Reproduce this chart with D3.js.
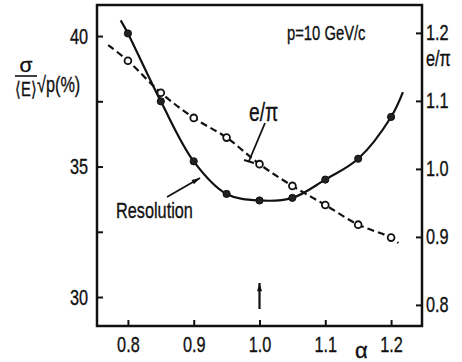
<!DOCTYPE html>
<html>
<head>
<meta charset="utf-8">
<script src="https://cdn.jsdelivr.net/npm/d3@7"></script>
<style>
  body { margin: 0; background: #fff; }
  svg { display: block; }
  text { font-family: "Liberation Sans", Arial, sans-serif; fill: #111; stroke: #111; stroke-width: 0.35; transform-box: fill-box; }
</style>
</head>
<body>
<svg width="462" height="362"></svg>
<script>
var svg = d3.select('svg');

// alpha values of the measurements
var alphas = [0.8, 0.85, 0.9, 0.95, 1.0, 1.05, 1.1, 1.15, 1.2];
// resolution sigma/<E> * sqrt(p) in %, left axis
var resolution = [40.1, 37.5, 35.2, 33.95, 33.7, 33.8, 34.5, 35.3, 36.9];
// e/pi ratio, right axis
var ePi = [1.159, 1.112, 1.075, 1.046, 1.007, 0.975, 0.947, 0.918, 0.899];
// ends of the drawn curves, beyond the points
var resolutionEnds = [[0.789, 40.6], [1.218, 37.85]];
var ePiEnds = [[0.77, 1.182], [1.211, 0.891]];

var xTicks = [0.8, 0.9, 1.0, 1.1, 1.2];
var leftTicks = [30, 35, 40];
var leftMinor = [32.5, 37.5];
var rightTicks = [0.8, 0.9, 1.0, 1.1, 1.2];

var x = d3.scaleLinear().domain([0.753, 1.247]).range([97, 422]);
var yL = d3.scaleLinear().domain([28.89, 41.19]).range([326, 5]);
var yR = d3.scaleLinear().domain([0.769, 1.241]).range([326, 5]);

// squeeze text horizontally, the original lettering is very narrow
function narrow(sel, origin){
  sel.style('transform-origin', origin + ' center').style('transform', 'scaleX(0.74)');
}

// frame
svg.append('rect')
  .attr('x', 97).attr('y', 5).attr('width', 325).attr('height', 321)
  .attr('fill', 'none').attr('stroke', '#111').attr('stroke-width', 2.5);

// axes, ticks pointing inwards
var fmt = d3.format('.1f');
var gx = svg.append('g').attr('transform', 'translate(0,326)')
  .call(d3.axisBottom(x).tickValues(xTicks).tickSize(-6).tickPadding(10).tickFormat(fmt));
var gl = svg.append('g').attr('transform', 'translate(97,0)')
  .call(d3.axisLeft(yL).tickValues(leftTicks).tickSize(-6).tickPadding(9));
var glm = svg.append('g').attr('transform', 'translate(97,0)')
  .call(d3.axisLeft(yL).tickValues(leftMinor).tickSize(-6).tickFormat(''));
var gr = svg.append('g').attr('transform', 'translate(422,0)')
  .call(d3.axisRight(yR).tickValues(rightTicks).tickSize(-6).tickPadding(4).tickFormat(fmt));

[gx, gl, glm, gr].forEach(function(g){
  g.select('.domain').remove();
  g.selectAll('line').attr('stroke', '#111').attr('stroke-width', 2);
  g.selectAll('text').attr('font-size', 22)
    .style('font-family', '"Liberation Sans", Arial, sans-serif')
    .attr('fill', '#111');
});
narrow(gx.selectAll('text'), 'center');
narrow(gl.selectAll('text'), 'right');
narrow(gr.selectAll('text'), 'left');

// resolution curve (solid)
var resPts = alphas.map(function(a, i){ return [a, resolution[i]]; });
var resLine = d3.line()
  .x(function(d){ return x(d[0]); })
  .y(function(d){ return yL(d[1]); })
  .curve(d3.curveCatmullRom.alpha(0.5));
svg.append('path')
  .datum([resolutionEnds[0]].concat(resPts, [resolutionEnds[1]]))
  .attr('d', resLine)
  .attr('fill', 'none').attr('stroke', '#111').attr('stroke-width', 2.2);

// e/pi curve (dashed)
var epPts = alphas.map(function(a, i){ return [a, ePi[i]]; });
var epLine = d3.line()
  .x(function(d){ return x(d[0]); })
  .y(function(d){ return yR(d[1]); })
  .curve(d3.curveCatmullRom.alpha(0.5));
svg.append('path')
  .datum([ePiEnds[0]].concat(epPts, [ePiEnds[1]]))
  .attr('d', epLine)
  .attr('fill', 'none').attr('stroke', '#111').attr('stroke-width', 2.2)
  .attr('stroke-dasharray', '7,4');

svg.selectAll('.resDot')
  .data(resPts)
  .enter()
  .append('circle')
  .attr('class', 'resDot')
  .attr('cx', function(d){ return x(d[0]); })
  .attr('cy', function(d){ return yL(d[1]); })
  .attr('r', 3.6)
  .attr('fill', '#222').attr('stroke', '#111').attr('stroke-width', 1);

svg.selectAll('.epDot')
  .data(epPts)
  .enter()
  .append('circle')
  .attr('class', 'epDot')
  .attr('cx', function(d){ return x(d[0]); })
  .attr('cy', function(d){ return yR(d[1]); })
  .attr('r', 3.4)
  .attr('fill', '#fff').attr('stroke', '#111').attr('stroke-width', 1.8);

// arrow markers
var defs = svg.append('defs');
defs.append('marker')
  .attr('id', 'head').attr('viewBox', '0 0 10 6')
  .attr('refX', 10).attr('refY', 3)
  .attr('markerWidth', 11).attr('markerHeight', 5).attr('markerUnits', 'userSpaceOnUse')
  .attr('orient', 'auto')
  .append('path').attr('d', 'M0,0L10,3L0,6Z').attr('fill', '#111');

// Resolution label and pointer
narrow(svg.append('text').attr('x', 116).attr('y', 218).attr('font-size', 22).text('Resolution'), 'left');
svg.append('line')
  .attr('x1', 167).attr('y1', 197).attr('x2', 200).attr('y2', 178)
  .attr('stroke', '#111').attr('stroke-width', 1.8).attr('marker-end', 'url(#head)');

// e/pi label and pointer with crossbar
narrow(svg.append('text').attr('x', 249).attr('y', 121).attr('font-size', 26).text('e/π'), 'left');
svg.append('line')
  .attr('x1', 265).attr('y1', 123).attr('x2', 249).attr('y2', 161)
  .attr('stroke', '#111').attr('stroke-width', 1.8);
svg.append('line')
  .attr('x1', 244).attr('y1', 160).attr('x2', 254).attr('y2', 163)
  .attr('stroke', '#111').attr('stroke-width', 2);

// arrow at alpha = 1.0
svg.append('line')
  .attr('x1', x(1.0)).attr('y1', 309).attr('x2', x(1.0)).attr('y2', 283)
  .attr('stroke', '#111').attr('stroke-width', 2.2).attr('marker-end', 'url(#head)');

// momentum note
narrow(svg.append('text').attr('x', 287).attr('y', 40).attr('font-size', 20).text('p=10 GeV/c'), 'left');

// axis titles
svg.append('text').attr('x', 355).attr('y', 358).attr('font-size', 22).text('α');
narrow(svg.append('text').attr('x', 426).attr('y', 66).attr('font-size', 22).text('e/π'), 'left');

var lt = svg.append('g');
lt.append('text').attr('x', 26).attr('y', 72).attr('font-size', 21).attr('text-anchor', 'middle').text('σ');
lt.append('line').attr('x1', 15).attr('x2', 37).attr('y1', 76).attr('y2', 76)
  .attr('stroke', '#111').attr('stroke-width', 1.6);
narrow(lt.append('text').attr('x', 26).attr('y', 96).attr('font-size', 20).attr('text-anchor', 'middle').text('⟨E⟩'), 'center');
narrow(lt.append('text').attr('x', 37).attr('y', 92).attr('font-size', 22).text('√p(%)'), 'left');
</script>
</body>
</html>
